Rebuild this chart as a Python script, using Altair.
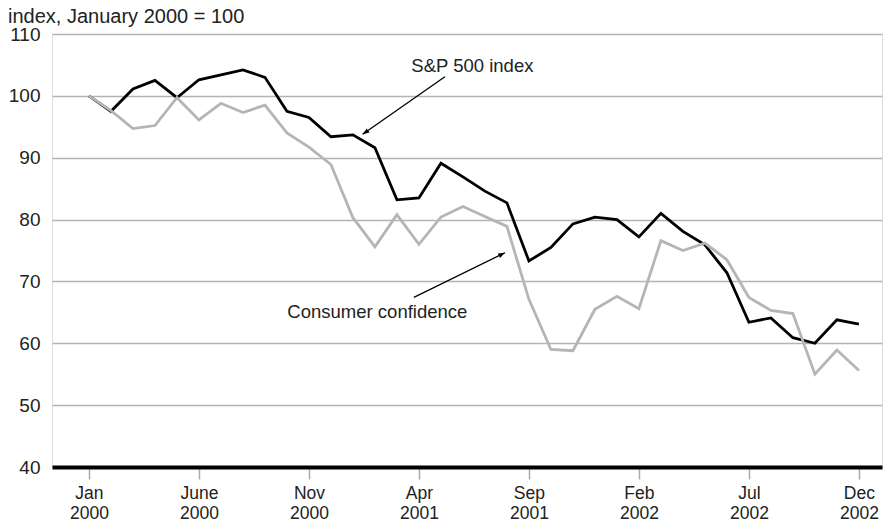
import json
import altair as alt
import pandas as pd

# month index 0 = Jan 2000 ... 35 = Dec 2002
months = list(range(36))
sp500 = [100, 97.5, 101.1, 102.5, 99.7, 102.6, 103.4, 104.2, 103.0, 97.5,
         96.5, 93.4, 93.7, 91.6, 83.2, 83.5, 89.1, 86.9, 84.6, 82.7,
         73.3, 75.5, 79.3, 80.4, 80.0, 77.2, 81.0, 78.1, 75.9, 71.4,
         63.4, 64.1, 60.9, 60.0, 63.8, 63.1]
confidence = [100, 97.6, 94.7, 95.2, 99.7, 96.1, 98.8, 97.3, 98.5, 94.0,
              91.7, 88.9, 80.3, 75.6, 80.8, 76.0, 80.4, 82.1, 80.5, 78.9,
              67.1, 59.0, 58.8, 65.5, 67.6, 65.6, 76.6, 75.0, 76.2, 73.5,
              67.4, 65.3, 64.8, 55.0, 58.9, 55.6]
tick_values = [0, 5, 10, 15, 20, 25, 30, 35]
tick_labels = ["Jan 2000", "June 2000", "Nov 2000", "Apr 2001",
               "Sep 2001", "Feb 2002", "Jul 2002", "Dec 2002"]
y_ticks = [40, 50, 60, 70, 80, 90, 100, 110]

# annotations (data coordinates)
ann_text = ["S&P 500 index", "Consumer confidence"]
ann_tx = [17.43, 13.11]
ann_ty = [104.9, 65.1]
arrow_x = [16.18, 14.77]
arrow_y = [103.1, 67.43]
arrow_x2 = [12.44, 18.91]
arrow_y2 = [93.78, 74.64]
arrow_angle = [235, 64]

FONT = "Liberation Sans"

df = pd.DataFrame({
    "m": months * 2,
    "v": sp500 + confidence,
    "s": ["S&P 500 index"] * 36 + ["Consumer confidence"] * 36,
    "o": [0] * 36 + [1] * 36,
})

xscale = alt.Scale(domain=[-1.68, 36.05], nice=False, zero=False)
yscale = alt.Scale(domain=[40, 110], nice=False, zero=False)

label_expr = "split(" + json.dumps(tick_labels).replace('"', "'") + "[round(datum.value/5)], ' ')"

lines = alt.Chart(df).mark_line(strokeWidth=2.8, strokeJoin="miter").encode(
    x=alt.X("m:Q", scale=xscale, axis=alt.Axis(
        values=tick_values, labelExpr=label_expr, title=None,
        domain=True, domainColor="#000000", domainWidth=4,
        ticks=True, tickColor="#aaaaaa", tickWidth=1.5, tickSize=12,
        labelFont=FONT, labelFontSize=17.5, labelColor="#222222",
        labelPadding=5, labelLineHeight=20, labelBaseline="top",
        grid=False, labelFlush=False)),
    y=alt.Y("v:Q", scale=yscale, axis=alt.Axis(
        values=y_ticks, title=None, domain=False, ticks=False,
        grid=True, gridColor="#b3b3b3", gridWidth=1.5,
        labelFont=FONT, labelFontSize=19, labelColor="#222222",
        labelPadding=12)),
    color=alt.Color("s:N", scale=alt.Scale(
        domain=["S&P 500 index", "Consumer confidence"],
        range=["#000000", "#b5b5b5"]), legend=None),
    order=alt.Order("o:Q"),
    detail="s:N",
)

ann = pd.DataFrame({"t": ann_text, "tx": ann_tx, "ty": ann_ty,
                    "x": arrow_x, "y": arrow_y, "x2": arrow_x2, "y2": arrow_y2,
                    "a": arrow_angle})

texts = alt.Chart(ann).mark_text(font=FONT, fontSize=18.5, color="#222222",
                                 align="center", baseline="middle").encode(
    x=alt.X("tx:Q", scale=xscale), y=alt.Y("ty:Q", scale=yscale), text="t:N")

rules = alt.Chart(ann).mark_rule(color="#000000", strokeWidth=1.3).encode(
    x=alt.X("x:Q", scale=xscale), y=alt.Y("y:Q", scale=yscale),
    x2="x2:Q", y2="y2:Q")

heads = alt.Chart(ann).mark_point(
    shape="M0,0 L0.38,1 L-0.38,1 Z", filled=True, color="#000000",
    opacity=1, size=180).encode(
    x=alt.X("x2:Q", scale=xscale), y=alt.Y("y2:Q", scale=yscale),
    angle=alt.Angle("a:Q", scale=None))

title = alt.Chart(ann.head(1)).mark_text(
    font=FONT, fontSize=20, color="#222222", align="left", baseline="alphabetic").encode(
    x=alt.value(-44), y=alt.value(-11), text=alt.value("index, January 2000 = 100"))

chart = alt.layer(lines, rules, heads, texts, title).properties(
    width=830, height=433,
    autosize=alt.AutoSizeParams(type="none"),
    padding={"left": 44, "top": 26, "right": 1, "bottom": 59},
).configure_view(stroke=None).configure(background="#ffffff")

chart.save("out.html", embed_options={"renderer": "svg", "actions": False})
